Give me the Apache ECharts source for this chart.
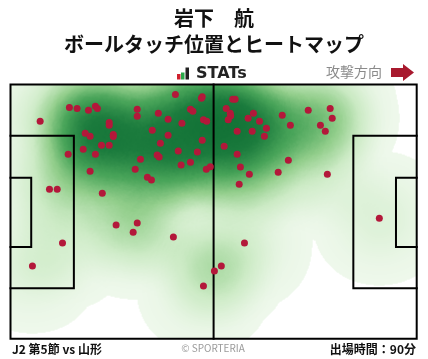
<!DOCTYPE html>
<html>
<head>
<meta charset="utf-8">
<script src="https://cdn.jsdelivr.net/npm/echarts@6/dist/echarts.min.js"></script>
<style>
html,body{margin:0;padding:0;background:#fff;}
#c{width:428px;height:359px;}
</style>
</head>
<body>
<div id="c"></div>
<script>
// ---- DATA (pitch units: x 0-100 in attacking direction, y 0-100 from top touchline) ----
const playerName = '岩下　航';
const chartTitle = 'ボールタッチ位置とヒートマップ';
const matchLabel = 'J2 第5節 vs 山形';
const minutesLabel = '出場時間：90分';
const directionLabel = '攻撃方向';

const touchX = [40.6,47.2,47.0,14.5,16.4,19.2,20.9,21.4,31.2,31.2,36.4,44.3,44.9,38.8,42.2,47.5,48.3,7.3,24.3,24.3,
  34.9,18.4,19.6,25.3,25.3,38.8,47.2,36.9,22.4,24.3,17.9,20.9,14.2,41.3,46.0,32.0,36.1,36.6,44.3,42.0,
  48.2,49.2,30.7,19.6,33.7,34.7,9.6,11.5,22.6,
  54.7,55.3,53.1,54.1,54.2,53.6,59.8,58.5,61.3,66.9,73.3,78.7,79.2,68.9,76.3,63.0,55.8,59.5,77.5,62.5,
  52.6,55.8,68.4,56.6,58.8,65.9,78.0,56.3,
  26.0,31.2,30.2,40.1,12.8,5.4,47.5,50.2,51.9,57.6,90.8];
const touchY = [3.9,4.8,5.4,9.0,9.4,10.1,8.6,9.4,9.7,12.5,11.3,9.7,10.5,13.7,15.2,13.9,14.5,14.5,14.9,16.0,
  18.0,19.2,20.4,19.7,20.5,20.0,21.9,23.1,23.9,23.9,25.5,27.4,27.4,26.2,26.6,29.4,27.7,28.5,30.6,31.7,
  33.3,32.4,33.3,34.1,36.5,37.6,41.2,41.2,42.8,
  5.8,5.8,9.4,11.3,12.3,13.9,11.3,13.3,14.5,12.1,10.1,9.4,13.3,16.0,16.0,17.2,18.4,18.4,18.4,20.4,
  24.3,27.4,29.8,32.5,35.3,34.5,35.3,39.2,
  55.3,54.5,58.1,60.0,62.4,71.4,79.3,73.4,71.4,62.4,52.6];

// pitch markings (same units)
const boxDepth = 15.6, boxTop = 20.2, boxBottom = 80.2;
const gaDepth = 5.1, gaTop = 36.7, gaBottom = 63.9;

// ---- build ----
const toGeo = (x, y) => [x, 100 - y];
const points = touchX.map((x, i) => toGeo(x, touchY[i]));
const heatWeight = 0.16;
const heatData = points.map(p => [p[0], p[1], heatWeight]);

function poly(list){ return { coords: list.map(p => toGeo(p[0], p[1])) }; }
const pitchLines = [
  poly([[0,0],[100,0],[100,100],[0,100],[0,0]]),
  poly([[50,0],[50,100]]),
  poly([[0,boxTop],[boxDepth,boxTop],[boxDepth,boxBottom],[0,boxBottom]]),
  poly([[0,gaTop],[gaDepth,gaTop],[gaDepth,gaBottom],[0,gaBottom]]),
  poly([[100,boxTop],[100-boxDepth,boxTop],[100-boxDepth,boxBottom],[100,boxBottom]]),
  poly([[100,gaTop],[100-gaDepth,gaTop],[100-gaDepth,gaBottom],[100,gaBottom]])
];

echarts.registerMap('pitch', {
  type: 'FeatureCollection',
  features: [{ type: 'Feature', properties: { name: 'pitch' },
    geometry: { type: 'Polygon', coordinates: [[[0,0],[100,0],[100,100],[0,100],[0,0]]] } }]
});

const FONT = '"Noto Sans CJK JP", "Noto Sans", sans-serif';
const chart = echarts.init(document.getElementById('c'), null, { renderer: 'canvas' });
chart.setOption({
  animation: false,
  backgroundColor: '#fff',
  geo: {
    map: 'pitch',
    roam: false,
    silent: true,
    left: 10.5, top: 84.5, right: 11.3, bottom: 20.3,
    boundingCoords: [[0, 100], [100, 0]],
    aspectScale: 1,
    label: { show: false },
    itemStyle: { areaColor: '#fff', borderColor: '#000', borderWidth: 0 },
    emphasis: { disabled: true },
    tooltip: { show: false }
  },
  visualMap: {
    show: false,
    type: 'continuous',
    min: 0, max: 1,
    seriesIndex: 0,
    inRange: { color: ['#eef8eb', '#cdebc6', '#92ce8b', '#4aa55a', '#1b7b3d', '#0a6a30', '#045c26'] }
  },
  series: [
    {
      type: 'heatmap',
      coordinateSystem: 'geo',
      data: heatData,
      pointSize: 30,
      blurSize: 48,
      minOpacity: 1,
      maxOpacity: 1,
      silent: true
    },
    {
      type: 'lines',
      coordinateSystem: 'geo',
      polyline: true,
      silent: true,
      z: 5,
      lineStyle: { color: '#000', width: 2, opacity: 1, cap: 'square' },
      data: pitchLines
    },
    {
      type: 'scatter',
      coordinateSystem: 'geo',
      z: 6,
      symbol: 'circle',
      symbolSize: 7,
      itemStyle: { color: '#b3183a', opacity: 1 },
      silent: true,
      data: points
    }
  ],
  graphic: [
    { type: 'text', left: 'center', top: 8, style: { text: playerName, font: 'bold 20px ' + FONT, fill: '#111' } },
    { type: 'text', left: 'center', top: 34, style: { text: chartTitle, font: 'bold 20px ' + FONT, fill: '#111' } },
    // STATs logo
    { type: 'rect', shape: { x: 177, y: 74, width: 3.5, height: 5.5 }, style: { fill: '#d0202e' } },
    { type: 'rect', shape: { x: 181, y: 72.5, width: 3.5, height: 7 }, style: { fill: '#2aa84a' } },
    { type: 'rect', shape: { x: 185.5, y: 67.5, width: 3.5, height: 12 }, style: { fill: '#222' } },
    { type: 'text', x: 196, y: 74, style: { text: 'STATs', font: 'bold 16px "DejaVu Sans", sans-serif', fill: '#222', verticalAlign: 'middle' } },
    { type: 'text', x: 326, y: 72, style: { text: directionLabel, font: '14px ' + FONT, fill: '#8a8a8a', verticalAlign: 'middle' } },
    { type: 'polygon', shape: { points: [[391,68],[403,68],[403,64],[414,72.5],[403,81],[403,77],[391,77]] }, style: { fill: '#a8192e' } },
    // footer
    { type: 'text', x: 12, y: 349, style: { text: matchLabel, font: 'bold 12px ' + FONT, fill: '#111', verticalAlign: 'middle' } },
    { type: 'text', x: 213, y: 348, style: { text: '© SPORTERIA', font: '10px ' + FONT, fill: '#9a9a9a', align: 'center', verticalAlign: 'middle' } },
    { type: 'text', x: 416, y: 349, style: { text: minutesLabel, font: 'bold 12px ' + FONT, fill: '#111', align: 'right', verticalAlign: 'middle' } }
  ]
});
</script>
</body>
</html>
